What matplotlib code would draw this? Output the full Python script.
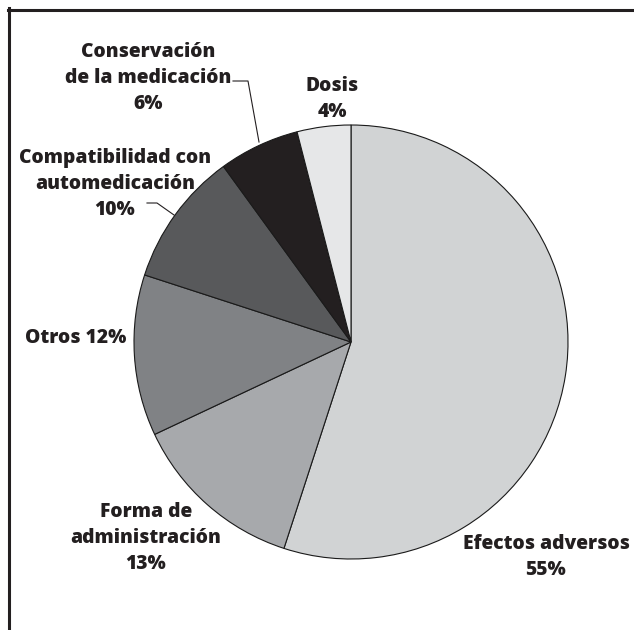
import matplotlib
matplotlib.use('Agg')
import matplotlib.pyplot as plt
from matplotlib.lines import Line2D

labels = ['Efectos adversos', 'Forma de administración', 'Otros',
          'Compatibilidad con automedicación', 'Conservación de la medicación', 'Dosis']
values = [55, 13, 12, 10, 6, 4]
colors = ['#d1d3d4', '#a7a9ac', '#808285', '#58595b', '#231f20', '#e6e7e8']

W, H = 634, 630
cx, cy, R = 351, 342, 217


def px(x, y):
    # pixel position (from top-left) -> data coords of the unit pie
    return (x - cx) / R, (cy - y) / R


plt.rcParams['font.family'] = ['Open Sans', 'DejaVu Sans']

fig = plt.figure(figsize=(W / 100, H / 100), dpi=100)
ax = fig.add_axes([0, 0, 1, 1])
ax.pie(values, colors=colors, startangle=90, counterclock=False,
       wedgeprops=dict(edgecolor='#1a1a1a', linewidth=0.8))
ax.set_xlim(px(0, 0)[0], px(W, 0)[0])
ax.set_ylim(px(0, H)[1], px(0, 0)[1])
ax.set_aspect('auto')
ax.axis('off')

txt = dict(ha='center', va='center', fontsize=13.9, fontweight='heavy',
           color='#231f20', linespacing=1.4, multialignment='center')

ax.text(*px(546, 557), 'Efectos adversos\n55%', **txt)
ax.text(*px(146, 538), 'Forma de\nadministración\n13%', **txt)
ax.text(*px(76, 338), 'Otros 12%', **txt)
ax.text(*px(115, 184), 'Compatibilidad con\nautomedicación\n10%', **txt)
ax.text(*px(148, 78), 'Conservación\nde la medicación\n6%', **txt)
ax.text(*px(332, 99), 'Dosis\n4%', **txt)

# leader lines
lx, ly = zip(px(147, 203), px(157, 203), px(174, 215))
ax.plot(lx, ly, color='#231f20', lw=0.8)
lx, ly = zip(px(233, 81), px(248, 81), px(259, 142))
ax.plot(lx, ly, color='#231f20', lw=0.8)

# frame (top and left only, the rest is cropped)
fig.add_artist(Line2D([8 / W, 1], [1 - 10 / H, 1 - 10 / H], color='#231f20', lw=2.2))
fig.add_artist(Line2D([9 / W, 9 / W], [0, 1 - 8 / H], color='#231f20', lw=2.2))

fig.savefig('out.png', dpi=100)
